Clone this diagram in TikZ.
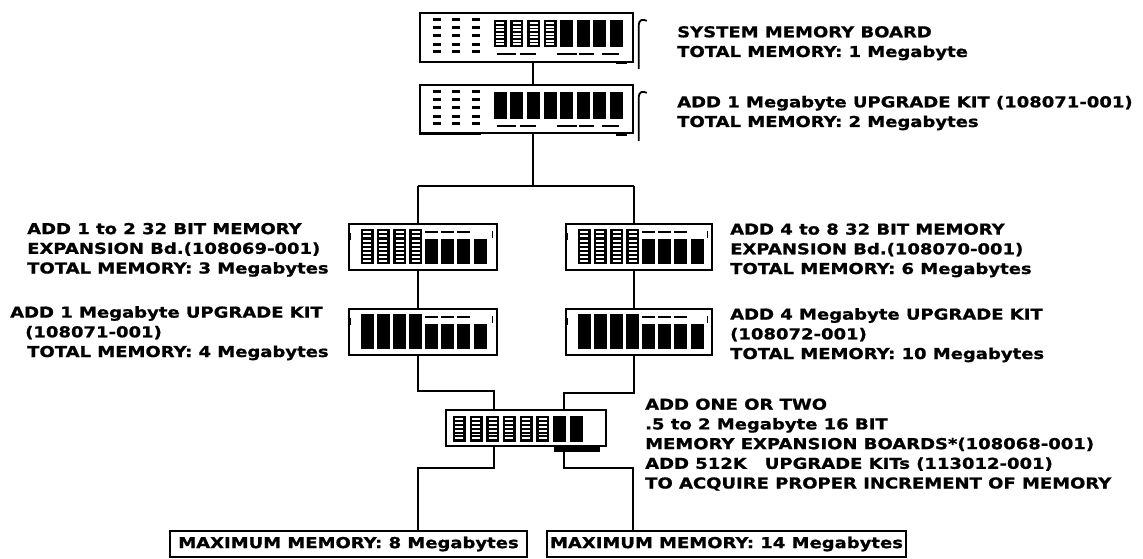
\documentclass[tikz,border=0pt]{standalone}
\usepackage{fontspec}
\usepackage{tikz}
\usetikzlibrary{calc, positioning}
\newfontfamily\dotface[FakeStretch=1.2, FakeBold=1]{DejaVu Sans}
\newcommand{\dotfont}{\dotface\bfseries\fontsize{15}{19.7}\selectfont}
\tikzstyle{board}=[draw, line width=2.4pt, inner sep=0pt, shape=rectangle]
\tikzstyle{wire}=[line width=2pt]
\tikzstyle{txt}=[inner sep=0pt, align=left, anchor=base west, font=\dotfont]
\tikzstyle{maxbox}=[draw, line width=2pt, inner sep=0pt, minimum height=26pt, font=\dotfont]

\begin{document}
\begin{tikzpicture}[x=1pt, y=-1pt]
\useasboundingbox (0,0) rectangle (1143,559);
% boards
\node[board, minimum width=213pt, minimum height=49pt] (B1) at (526.5,37.5) {};
\node[board, minimum width=213pt, minimum height=48pt] (B2) at (526.5,109) {};
\node[board, minimum width=148pt, minimum height=46pt] (L1) at (423,247) {};
\node[board, minimum width=148pt, minimum height=46pt] (L2) at (423,332) {};
\node[board, minimum width=146pt, minimum height=46pt] (R1) at (639,247) {};
\node[board, minimum width=146pt, minimum height=46pt] (R2) at (639,332) {};
\node[board, minimum width=160pt, minimum height=36pt] (S) at (526,428) {};
\node[fill, inner sep=0pt, minimum width=46pt, minimum height=6pt] (Stab) at (577,449) {};
\node[maxbox, minimum width=357pt] (M1) at (348.5,544) {MAXIMUM MEMORY: 8 Megabytes};
\node[maxbox, minimum width=359pt] (M2) at (726.5,544) {MAXIMUM MEMORY: 14 Megabytes};
% system board and its upgrade
\foreach \b/\s in {B1/1, B2/0} {
  \begin{scope}[shift={(\b.north west)}]
    \foreach \cx in {18,37,57} \foreach \cy in {8,16,24,33,40}
      \fill (\cx-4,\cy-1.5) rectangle (\cx+4,\cy+1.5);
    \foreach \i in {0,...,7} {
      \fill (75+\i*16.6,8) rectangle ++(13,27);
      \ifnum\i<4 \ifnum\s=1
        \foreach \j in {0,...,6} \fill[white] (77.5+\i*16.6,10.5+\j*3.5) rectangle ++(8,1.8);
      \fi\fi
    }
    \foreach \a/\c in {78/97, 101/117, 138/158, 160/175, 183/200}
      \fill (\a,41) rectangle (\c,43.5);
    \draw[line width=1.5pt] (0,50.5) -- (62,50.5);
    \fill (197,49) rectangle (208,52);
    \draw[line width=1.8pt] (220,57) -- (220,13) .. controls (220,8) and (224,7) .. (228,9);
  \end{scope}
}
% 32 bit expansion boards
\foreach \b/\w/\s in {L1/148/1, L2/148/0, R1/146/1, R2/146/0} {
  \begin{scope}[shift={(\b.north west)}]
    \draw[line width=1pt] (3,10) -- (3,17);
    \draw[line width=1pt] (\w-3,8) -- (\w-3,15);
    \foreach \i in {0,...,3} {
      \fill (13+\i*16.1,6) rectangle ++(13,35);
      \ifnum\s=1
        \foreach \j in {0,...,7} \fill[white] (15.5+\i*16.1,8.5+\j*4.1) rectangle ++(8,2);
      \fi
    }
    \foreach \i in {4,...,7} \fill (13+\i*16.1,16) rectangle ++(13,25);
    \foreach \i in {4,...,6} \fill (13+\i*16.1,8) rectangle ++(13,2.5);
  \end{scope}
}
% 16 bit expansion board
\begin{scope}[shift={(S.north west)}]
  \foreach \i in {0,...,7} {
    \fill (8+\i*16.7,7) rectangle ++(13,26);
    \ifnum\i<6
      \foreach \j in {0,...,5} \fill[white] (10.5+\i*16.7,9.5+\j*3.8) rectangle ++(8,1.8);
    \fi
  }
\end{scope}
% connectors
\coordinate (J) at (533,186);
\coordinate (JL) at (418,186);
\coordinate (JR) at (634,186);
\coordinate (KL) at (494,391);
\coordinate (KR) at (564,393);
\coordinate (ML) at (418,468);
\coordinate (MR) at (633,468);
\draw[wire] (B1.south -| J) -- (B2.north -| J);
\draw[wire] (B2.south -| J) -- (J);
\draw[wire] (JL) -- (JR);
\draw[wire] (JL) -- (L1.north -| JL);
\draw[wire] (JR) -- (R1.north -| JR);
\draw[wire] (L1.south -| JL) -- (L2.north -| JL);
\draw[wire] (R1.south -| JR) -- (R2.north -| JR);
\draw[wire] (L2.south -| JL) |- (KL) -- (S.north -| KL);
\draw[wire] (R2.south -| JR) |- (KR) -- (S.north -| KR);
\draw[wire] (S.south -| KL) |- (ML) -- (M1.north -| ML);
\draw[wire] (Stab.south -| KR) |- (MR) -- (M2.north -| MR);
% texts (anchored on the last line)
\node[txt] (T1) at (677,57) {SYSTEM MEMORY BOARD\\TOTAL MEMORY: 1 Megabyte};
\node[txt] (T2) at (677,127) {ADD 1 Megabyte UPGRADE KIT (108071-001)\\TOTAL MEMORY: 2 Megabytes};
\node[txt] (T3) at (27,273.5) {ADD 1 to 2 32 BIT MEMORY\\EXPANSION Bd.(108069-001)\\TOTAL MEMORY: 3 Megabytes};
\node[txt] (T4) at (10,357) {ADD 1 Megabyte UPGRADE KIT\\\hspace*{15pt}(108071-001)\\\hspace*{17pt}TOTAL MEMORY: 4 Megabytes};
\node[txt] (T5) at (730,274) {ADD 4 to 8 32 BIT MEMORY\\EXPANSION Bd.(108070-001)\\TOTAL MEMORY: 6 Megabytes};
\node[txt] (T6) at (730,359) {ADD 4 Megabyte UPGRADE KIT\\(108072-001)\\TOTAL MEMORY: 10 Megabytes};
\node[txt] (T7) at (645,488.5) {ADD ONE OR TWO\\.5 to 2 Megabyte 16 BIT\\MEMORY EXPANSION BOARDS*(108068-001)\\ADD 512K\hspace{1.2em}UPGRADE KITs (113012-001)\\TO ACQUIRE PROPER INCREMENT OF MEMORY};
\end{tikzpicture}
\end{document}
